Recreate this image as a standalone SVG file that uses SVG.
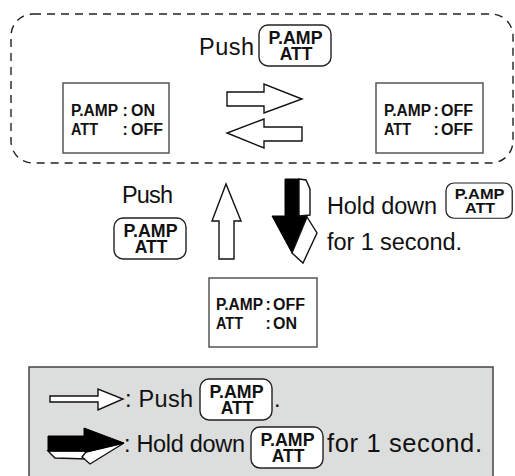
<svg xmlns="http://www.w3.org/2000/svg" width="515" height="476" viewBox="0 0 515 476">
<style>
.t{font-family:"Liberation Sans",Arial,sans-serif;font-size:23.5px;fill:#111}
.b{font-family:"Liberation Sans",Arial,sans-serif;font-size:16px;font-weight:bold;fill:#111}
.k{font-family:"Liberation Sans",Arial,sans-serif;font-size:17.5px;font-weight:bold;fill:#111;text-anchor:middle}
.box{fill:#fff;stroke:#555;stroke-width:1.5}
.btn{fill:#fff;stroke:#222;stroke-width:1.4}
.wa{fill:#fff;stroke:#111;stroke-width:1.4;stroke-linejoin:miter}
.blk{fill:#000;stroke:#000;stroke-width:1}
</style>
<defs>
<g id="btn">
<rect class="btn" x="0" y="0" width="72" height="41" rx="9"/>
<text class="k" x="36.5" y="19" textLength="54" lengthAdjust="spacingAndGlyphs">P.AMP</text>
<text class="k" x="37" y="34.5">ATT</text>
</g>
</defs>
<g id="group-frame">
<rect x="11" y="14" width="502" height="149" rx="22" fill="none" stroke="#222" stroke-width="1.4" stroke-dasharray="8,6"/>
</g>
<g id="push-top">
<text class="t" x="199" y="55" textLength="55">Push</text>
<use href="#btn" x="259" y="25"/>
</g>
<g id="state-on-off">
<rect class="box" x="63" y="83" width="106" height="70"/>
<text class="b" x="71" y="115.5" textLength="47" lengthAdjust="spacingAndGlyphs">P.AMP</text><text class="b" x="122.5" y="115.5">:</text><text class="b" x="131" y="115.5">ON</text>
<text class="b" x="71" y="134.5" textLength="27" lengthAdjust="spacingAndGlyphs">ATT</text><text class="b" x="122.5" y="134.5">:</text><text class="b" x="131" y="134.5">OFF</text>
</g>
<g id="state-off-off">
<rect class="box" x="376" y="83" width="107" height="70"/>
<text class="b" x="384" y="115.5" textLength="47" lengthAdjust="spacingAndGlyphs">P.AMP</text><text class="b" x="433.5" y="115.5">:</text><text class="b" x="441" y="115.5">OFF</text>
<text class="b" x="384" y="134.5" textLength="27" lengthAdjust="spacingAndGlyphs">ATT</text><text class="b" x="433.5" y="134.5">:</text><text class="b" x="441" y="134.5">OFF</text>
</g>
<g id="state-off-on">
<rect class="box" x="209" y="278" width="108" height="69"/>
<text class="b" x="216" y="309.5" textLength="47" lengthAdjust="spacingAndGlyphs">P.AMP</text><text class="b" x="265.5" y="309.5">:</text><text class="b" x="273" y="309.5">OFF</text>
<text class="b" x="216" y="328.5" textLength="27" lengthAdjust="spacingAndGlyphs">ATT</text><text class="b" x="265.5" y="328.5">:</text><text class="b" x="273" y="328.5">ON</text>
</g>
<g id="connectors">
<polygon class="wa" points="227,92 264,92 264,84 302,99 264,113 264,106 227,106"/>
<polygon class="wa" points="302,127 264,127 264,119 227,133 264,148 264,141 302,141"/>
<polygon class="wa" points="219,259 219,221 212,221 226,184 241,221 234,221 234,259"/>
<polygon class="blk" points="285,179 299,179 299,216 307,216 292,253 272,216 285,216"/>
<polygon class="wa" points="299,179 306,180 310,189 310,215 299,216"/>
<polygon class="wa" points="307,217 317,233 303,263 292,253"/>
</g>
<g id="push-left">
<text class="t" x="122" y="203" textLength="51">Push</text>
<use href="#btn" x="114" y="218"/>
</g>
<g id="hold-label">
<text class="t" x="327" y="214" textLength="110">Hold down</text>
<use href="#btn" transform="translate(446,183) scale(0.92,0.86)"/>
<text class="t" x="327" y="250" textLength="135">for 1 second.</text>
</g>
<g id="legend">
<rect x="29" y="367" width="464" height="115" fill="#dcdddd" stroke="#444" stroke-width="1.5"/>
<polygon class="wa" points="50,396 98,396 98,389 123,399 98,410 98,402 50,402"/>
<text class="t" x="125" y="407" textLength="68">: Push</text>
<use href="#btn" x="200" y="379"/>
<text class="t" x="274" y="407">.</text>
<polygon class="wa" points="48,451 86,451 88,459 55,458"/>
<polygon class="wa" points="86,452 124,443 90,464 82,457"/>
<polygon class="blk" points="48,436 84,436 84,428 124,443 86,452 84,451 48,451"/>
<text class="t" x="124" y="452" textLength="121">: Hold down</text>
<use href="#btn" x="251" y="427"/>
<text class="t" x="327" y="452" style="font-size:25.5px" textLength="155">for 1 second.</text>
</g>
</svg>
